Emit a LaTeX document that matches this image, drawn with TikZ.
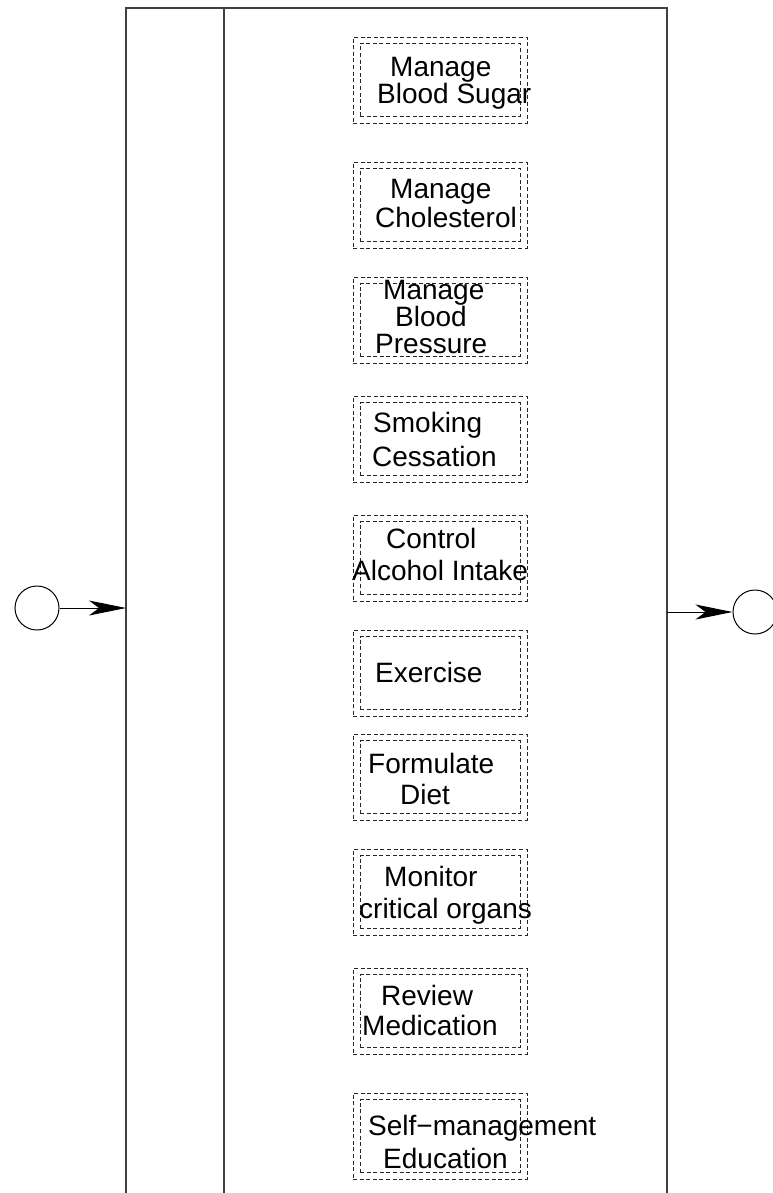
\documentclass[tikz,border=0pt]{standalone}
\usepackage{fontspec}
\setmainfont{Liberation Sans}
\usetikzlibrary{arrows.meta}
\begin{document}
\begin{tikzpicture}[x=1pt,y=-1pt,
  lane/.style={draw=black!75, line width=1.3pt},
  outerbox/.style={draw=black!85, line width=0.9pt, dash pattern=on 4pt off 2.6pt,
    minimum width=174pt, minimum height=86pt, inner sep=0pt, outer sep=0pt},
  innerbox/.style={draw=black!85, line width=0.9pt, dash pattern=on 4pt off 2.6pt,
    minimum width=160pt, minimum height=73pt, inner sep=0pt, outer sep=0pt},
  txt/.style={anchor=base west, inner sep=0pt, font=\fontsize{28}{28}\selectfont},
  endpoint/.style={circle, draw=black, line width=1pt, minimum size=44pt, inner sep=0pt},
  flow/.style={line width=1pt, -{Stealth[length=37pt,width=15pt,inset=10pt]}}]
\useasboundingbox (0,0) rectangle (773,1193);

% swimlane frame
\coordinate (laneBL) at (126,1193);
\coordinate (laneTL) at (126,8);
\coordinate (laneTR) at (667,8);
\coordinate (laneBR) at (667,1193);
\coordinate (midT) at (224,8);
\coordinate (midB) at (224,1193);
\draw[lane] (laneBL) -- (laneTL) -- (laneTR) -- (laneBR);
\draw[lane] (midT) -- (midB);

% start and end events
\node[endpoint] (start) at (37,608) {};
\coordinate (inL) at (126,608);
\draw[flow] (start) -- (inL);
\node[endpoint] (finish) at (755,612) {};
\coordinate (outR) at (667,612);
\draw[flow] (outR) -- (finish);

% activity boxes (dashed double border)
\foreach \n/\cy in {1/80,2/205,3/320,4/439,5/558,6/673,7/777,8/892,9/1011,10/1136}{
  \node[outerbox] (box\n) at (440,\cy) {};
  \node[innerbox] (inner\n) at (box\n.center) {};
}

% activity labels
\node[txt] (t1a) at (390,77) {Manage};
\node[txt] (t1b) at (377,104) {Blood Sugar};
\node[txt] (t2a) at (390,198) {Manage};
\node[txt] (t2b) at (375,227) {Cholesterol};
\node[txt] (t3a) at (383,299) {Manage};
\node[txt] (t3b) at (395,326) {Blood};
\node[txt] (t3c) at (375,353) {Pressure};
\node[txt] (t4a) at (373,432) {Smoking};
\node[txt] (t4b) at (372,466) {Cessation};
\node[txt] (t5a) at (386,548) {Control};
\node[txt] (t5b) at (352,580) {Alcohol Intake};
\node[txt] (t6a) at (375,682) {Exercise};
\node[txt] (t7a) at (368,773) {Formulate};
\node[txt] (t7b) at (400,804) {Diet};
\node[txt] (t8a) at (384,886) {Monitor};
\node[txt] (t8b) at (359,918) {critical organs};
\node[txt] (t9a) at (381,1005) {Review};
\node[txt] (t9b) at (362,1035) {Medication};
\node[txt] (t10a) at (368,1135) {Self−management};
\node[txt] (t10b) at (383,1168) {Education};
\end{tikzpicture}
\end{document}
